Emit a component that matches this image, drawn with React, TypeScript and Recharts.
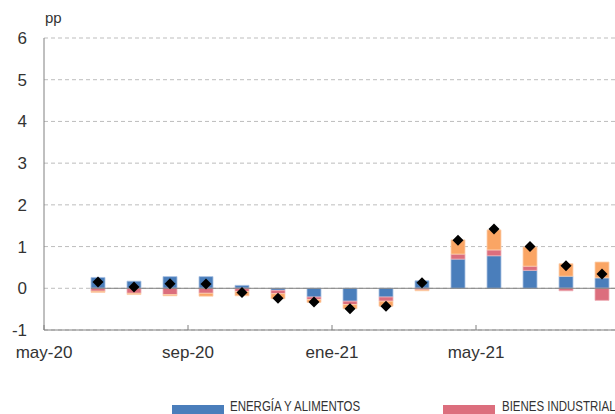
import {
  Bar,
  CartesianGrid,
  ComposedChart,
  Line,
  ReferenceLine,
  XAxis,
  YAxis,
} from "recharts";

const months = [
  "jun-20", "jul-20", "ago-20", "sep-20", "oct-20", "nov-20", "dic-20",
  "ene-21", "feb-21", "mar-21", "abr-21", "may-21", "jun-21", "jul-21", "ago-21",
];
const energia = [0.26, 0.17, 0.28, 0.28, 0.07, -0.05, -0.21, -0.31, -0.21, 0.18, 0.7, 0.78, 0.43, 0.29, 0.25];
const bienes = [-0.07, -0.12, -0.15, -0.12, -0.08, -0.08, -0.06, -0.08, -0.1, -0.04, 0.12, 0.14, 0.1, -0.06, -0.29];
const servicios = [-0.03, -0.03, -0.03, -0.07, -0.1, -0.12, -0.07, -0.1, -0.12, -0.02, 0.34, 0.48, 0.46, 0.3, 0.38];
const total = [0.15, 0.03, 0.11, 0.1, -0.1, -0.24, -0.33, -0.49, -0.43, 0.13, 1.15, 1.42, 1.0, 0.54, 0.34];

const tickLabels = ["may-20", "sep-20", "ene-21", "may-21"];
const tickPositions = [0, 4, 8, 12];
const yTicks = [-1, 0, 1, 2, 3, 4, 5, 6];

// first bar is jun-20, one month after may-20 (position 0)
const data = months.map((m, i) => ({
  mes: m,
  x: i + 1.5,
  energia: energia[i],
  bienes: bienes[i],
  servicios: servicios[i],
  total: total[i],
}));

const BLUE = "#4A7EBB";
const PINK = "#DC6E7D";
const ORANGE = "#FAA564";
const AXIS = "#808080";
const TEXT = "#333333";

function XTick(props: any) {
  const { x, y, payload } = props;
  const label = tickLabels[tickPositions.indexOf(payload.value)] ?? "";
  return (
    <g>
      <line x1={x} x2={x} y1={y} y2={y - 5} stroke={AXIS} />
      <text x={x} y={y + 28} textAnchor="middle" fontSize={17} fill={TEXT}>
        {label}
      </text>
    </g>
  );
}

function Diamond(props: any) {
  const { cx, cy } = props;
  if (cx == null || cy == null) return null;
  const r = 5.5;
  return (
    <path
      d={`M${cx},${cy - r} L${cx + r},${cy} L${cx},${cy + r} L${cx - r},${cy} Z`}
      fill="#000"
    />
  );
}

const legendText = {
  position: "absolute" as const,
  top: 400,
  fontSize: 14,
  lineHeight: "12px",
  color: TEXT,
  whiteSpace: "nowrap" as const,
  transform: "scaleX(0.82)",
  transformOrigin: "left center",
};

export default function App() {
  return (
    <div
      style={{
        position: "absolute",
        left: 0,
        top: 0,
        width: 615,
        height: 414,
        overflow: "hidden",
        background: "#fff",
        fontFamily: "'Liberation Sans', Arial, sans-serif",
      }}
    >
      <div style={{ position: "absolute", left: 45, top: 10, fontSize: 15, lineHeight: "15px", color: TEXT }}>
        pp
      </div>
      <ComposedChart
        width={660}
        height={414}
        data={data}
        stackOffset="sign"
        margin={{ top: 38, right: 40, bottom: 54, left: 0 }}
      >
        <CartesianGrid vertical={false} stroke="#BDBDBD" strokeDasharray="4 3" />
        <XAxis
          type="number"
          dataKey="x"
          domain={[0, 16]}
          ticks={tickPositions}
          interval={0}
          height={30}
          stroke={AXIS}
          tickLine={false}
          tickSize={0}
          tickMargin={0}
          tick={<XTick />}
        />
        <YAxis
          type="number"
          domain={[-1, 6]}
          ticks={yTicks}
          width={44}
          stroke={AXIS}
          tickLine={false}
          tickSize={0}
          tickMargin={17}
          tick={{ fontSize: 17, fill: TEXT }}
        />
        <ReferenceLine segment={[{ x: 1.3, y: 0 }, { x: 16, y: 0 }]} stroke={AXIS} />
        <Bar dataKey="energia" stackId="a" fill={BLUE} stroke="#A9C2E2" strokeWidth={0.8} barSize={14} isAnimationActive={false} />
        <Bar dataKey="bienes" stackId="a" fill={PINK} stroke="#EDB0B8" strokeWidth={0.8} barSize={14} isAnimationActive={false} />
        <Bar dataKey="servicios" stackId="a" fill={ORANGE} stroke="#FCD0AE" strokeWidth={0.8} barSize={14} isAnimationActive={false} />
        <Line dataKey="total" stroke="none" dot={<Diamond />} activeDot={false} isAnimationActive={false} />
      </ComposedChart>
      <div style={{ position: "absolute", left: 172, top: 405, width: 52, height: 10, background: BLUE }} />
      <div style={{ ...legendText, left: 230 }}>ENERGÍA Y ALIMENTOS</div>
      <div style={{ position: "absolute", left: 443, top: 405, width: 52, height: 10, background: PINK }} />
      <div style={{ ...legendText, left: 502 }}>BIENES INDUSTRIALES</div>
    </div>
  );
}
